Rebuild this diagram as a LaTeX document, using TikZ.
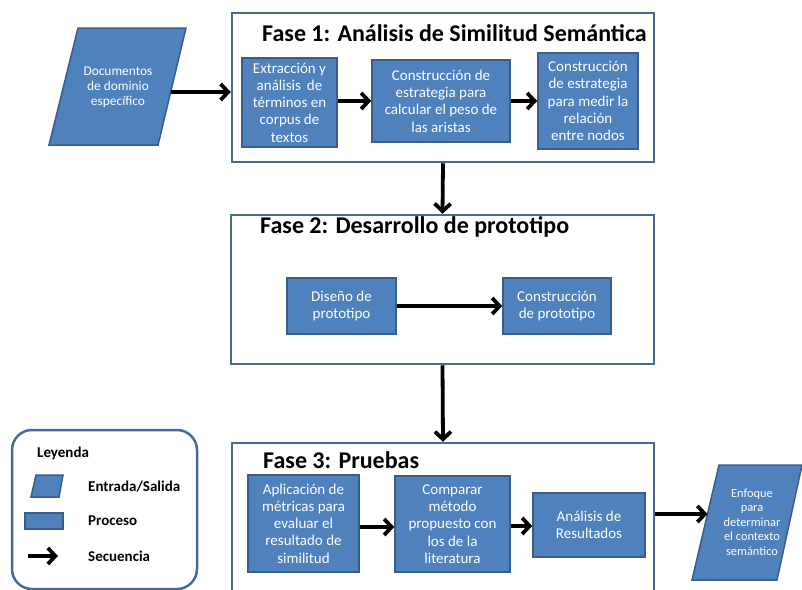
\documentclass[tikz,border=0pt]{standalone}
\usepackage{fontspec}
\setmainfont{Carlito}
\usetikzlibrary{arrows.meta}
\definecolor{procfill}{HTML}{4F81BD}
\definecolor{procedge}{HTML}{385D8A}
\definecolor{phaseedge}{HTML}{4A6A94}

\tikzset{
  proc/.style={draw=procedge, line width=1.5pt, fill=procfill, text=white,
    align=center, inner sep=1pt, font=\fontsize{15}{17.3}\selectfont},
  phase/.style={draw=phaseedge, line width=2.5pt, fill=white, inner sep=0pt},
  io/.style={draw=procedge, line width=1.5pt, fill=procfill},
  iotext/.style={text=white, align=center},
  seq/.style={line width=3.8pt, -{Straight Barb[length=7.5pt,width=16pt]}},
  phasetitle/.style={font=\fontsize{24}{29}\selectfont\bfseries, anchor=west, inner sep=0pt},
  legtext/.style={font=\fontsize{15}{18}\selectfont\bfseries, anchor=west, inner sep=0pt},
}

\begin{document}
\begin{tikzpicture}[x=1pt,y=-1pt]
\useasboundingbox (0,0) rectangle (802,589);
\clip (0,0) rectangle (802,589);

% phase frames
\node[phase, minimum width=422pt, minimum height=149pt] (p1) at (443,87.5) {};
\node[phase, minimum width=423pt, minimum height=149pt] (p2) at (442.5,289.5) {};
\node[phase, minimum width=422pt, minimum height=157pt] (p3) at (443,521.5) {};

\node[phasetitle] (t1) at (262,33) {Fase 1: Análisis de Similitud Semántica};
\node[phasetitle] (t2) at (260,227) {Fase 2: Desarrollo de prototipo};
\node[phasetitle] (t3) at (263,460) {Fase 3: Pruebas};

% phase 1 processes
\node[proc, minimum width=95pt, minimum height=89pt] (a1) at (289.5,102.5)
  {Extracción y\\análisis \,de\\términos en\\corpus de\\textos};
\node[proc, minimum width=138pt, minimum height=82pt] (a2) at (441,101)
  {Construcción de\\estrategia para\\calcular el peso de\\las aristas};
\node[proc, minimum width=100pt, minimum height=96pt] (a3) at (588,101)
  {Construcción\\de estrategia\\para medir la\\relación\\entre nodos};

% phase 2 processes
\node[proc, minimum width=109pt, minimum height=56pt] (b1) at (341.5,306)
  {Diseño de\\prototipo};
\node[proc, minimum width=108pt, minimum height=56pt] (b2) at (557,306)
  {Construcción\\de prototipo};

% phase 3 processes
\node[proc, minimum width=111pt, minimum height=97pt] (c1) at (303.5,523.5)
  {Aplicación de\\métricas para\\evaluar el\\resultado de\\similitud};
\node[proc, minimum width=115pt, minimum height=96pt] (c2) at (452.5,524)
  {Comparar\\método\\propuesto con\\los de la\\literatura};
\node[proc, minimum width=112pt, minimum height=64pt] (c3) at (589,525)
  {Análisis de\\Resultados};

% input and output documents
\draw[io] (78,28) -- (186,28) -- (158,145) -- (49,145) -- cycle;
\node[iotext, font=\fontsize{13.4}{15.2}\selectfont] (in) at (118,87)
  {Documentos\\de dominio\\específico};
\coordinate (inR) at (170.7,92);

\draw[io] (719,465) -- (802,465) -- (777,580) -- (692,580) -- cycle;
\node[iotext, font=\fontsize{12.4}{14.6}\selectfont] (out) at (752,522)
  {Enfoque\\para\\determinar\\el contexto\\semántico};
\coordinate (outL) at (707.5,514);

% sequence arrows
\draw[seq] (inR) -- (p1.west |- inR);
\draw[seq] (a1.east |- a2) -- (a2.west);
\draw[seq] (a2.east) -- (a3.west |- a2);
\draw[seq] (p1.south) -- (p2.north);
\draw[seq] (b1.east) -- (b2.west);
\draw[seq] (p2.south) -- (p3.north);
\draw[seq] (c1.east |- 0,527) -- (c2.west |- 0,527);
\draw[seq] (c2.east |- 0,526) -- (c3.west |- 0,526);
\draw[seq] (p3.east |- outL) -- (outL);

% legend
\node[draw=phaseedge, line width=2.5pt, rounded corners=20pt, fill=white,
  minimum width=185pt, minimum height=159pt] (leg) at (104.5,509.5) {};
\node[legtext] (lt) at (37,453) {Leyenda};
\draw[io] (36,475) -- (63,475) -- (59,497) -- (31,497) -- cycle;
\node[io, minimum width=38pt, minimum height=16pt, inner sep=0pt] (lp) at (44,521) {};
\coordinate (la1) at (28,556);
\coordinate (la2) at (58,556);
\draw[seq] (la1) -- (la2);
\node[legtext] (l1) at (88,487) {Entrada/Salida};
\node[legtext] (l2) at (88,521) {Proceso};
\node[legtext] (l3) at (88,556) {Secuencia};
\end{tikzpicture}
\end{document}
